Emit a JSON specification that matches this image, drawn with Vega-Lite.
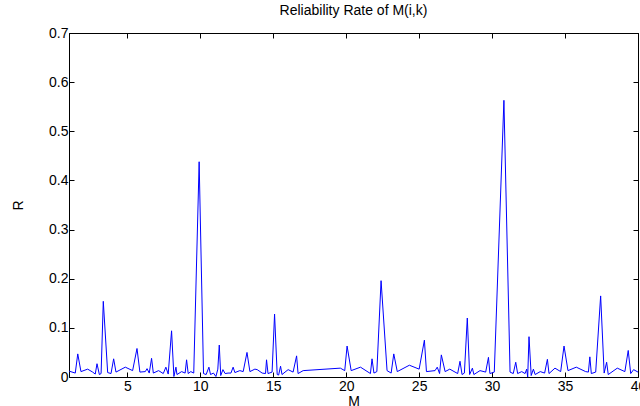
{
  "$schema": "https://vega.github.io/schema/vega-lite/v6.json",
  "width": 569,
  "height": 344,
  "autosize": {"type": "none"},
  "padding": {"left": 69, "top": 33, "right": 2, "bottom": 29},
  "background": "white",
  "title": {"text": "Reliability Rate of M(i,k)", "fontSize": 14, "fontWeight": "normal", "font": "Liberation Sans", "color": "black", "offset": 8},
  "config": {
    "view": {"stroke": "black", "strokeWidth": 1},
    "axis": {"grid": false, "domainColor": "black", "tickColor": "black", "tickSize": -5, "labelFont": "Liberation Sans", "labelFontSize": 14, "labelColor": "black", "titleFont": "Liberation Sans", "titleFontSize": 14, "titleFontWeight": "normal", "titleColor": "black"}
  },
  "data": {"values": [
    {"M": 1.0, "R": 0.012}, {"M": 1.43, "R": 0.008}, {"M": 1.6, "R": 0.047}, {"M": 1.82, "R": 0.011},
    {"M": 2.28, "R": 0.016}, {"M": 2.62, "R": 0.01}, {"M": 2.8, "R": 0.006}, {"M": 2.92, "R": 0.027},
    {"M": 3.08, "R": 0.005}, {"M": 3.2, "R": 0.007}, {"M": 3.35, "R": 0.154}, {"M": 3.65, "R": 0.009},
    {"M": 3.88, "R": 0.007}, {"M": 4.06, "R": 0.037}, {"M": 4.22, "R": 0.01}, {"M": 4.86, "R": 0.02},
    {"M": 5.36, "R": 0.013}, {"M": 5.66, "R": 0.058}, {"M": 5.86, "R": 0.01}, {"M": 6.23, "R": 0.011},
    {"M": 6.35, "R": 0.017}, {"M": 6.5, "R": 0.008}, {"M": 6.66, "R": 0.038}, {"M": 6.78, "R": 0.008},
    {"M": 7.14, "R": 0.013}, {"M": 7.46, "R": 0.007}, {"M": 7.64, "R": 0.02}, {"M": 7.8, "R": 0.006},
    {"M": 8.03, "R": 0.094}, {"M": 8.19, "R": 0.001}, {"M": 8.33, "R": 0.02}, {"M": 8.4, "R": 0.005},
    {"M": 8.72, "R": 0.011}, {"M": 8.96, "R": 0.008}, {"M": 9.06, "R": 0.035}, {"M": 9.17, "R": 0.007},
    {"M": 9.35, "R": 0.011}, {"M": 9.55, "R": 0.008}, {"M": 9.92, "R": 0.438}, {"M": 10.22, "R": 0.007},
    {"M": 10.4, "R": 0.005}, {"M": 10.59, "R": 0.02}, {"M": 10.7, "R": 0.005}, {"M": 10.9, "R": 0.008},
    {"M": 11.07, "R": 0.001}, {"M": 11.2, "R": 0.016}, {"M": 11.3, "R": 0.065}, {"M": 11.4, "R": 0.003},
    {"M": 11.55, "R": 0.015}, {"M": 11.7, "R": 0.007}, {"M": 11.9, "R": 0.008}, {"M": 12.1, "R": 0.008},
    {"M": 12.25, "R": 0.02}, {"M": 12.37, "R": 0.009}, {"M": 12.71, "R": 0.013}, {"M": 12.94, "R": 0.011},
    {"M": 13.2, "R": 0.05}, {"M": 13.4, "R": 0.011}, {"M": 13.74, "R": 0.016}, {"M": 13.9, "R": 0.015},
    {"M": 14.24, "R": 0.008}, {"M": 14.47, "R": 0.007}, {"M": 14.54, "R": 0.035}, {"M": 14.64, "R": 0.007},
    {"M": 14.92, "R": 0.01}, {"M": 15.09, "R": 0.128}, {"M": 15.27, "R": 0.005}, {"M": 15.37, "R": 0.004},
    {"M": 15.5, "R": 0.022}, {"M": 15.6, "R": 0.005}, {"M": 16.02, "R": 0.015}, {"M": 16.36, "R": 0.01},
    {"M": 16.6, "R": 0.043}, {"M": 16.7, "R": 0.007}, {"M": 17.05, "R": 0.013}, {"M": 19.6, "R": 0.018},
    {"M": 19.9, "R": 0.013}, {"M": 20.06, "R": 0.063}, {"M": 20.34, "R": 0.013}, {"M": 20.98, "R": 0.02},
    {"M": 21.66, "R": 0.007}, {"M": 21.77, "R": 0.037}, {"M": 21.9, "R": 0.008}, {"M": 22.1, "R": 0.011},
    {"M": 22.39, "R": 0.196}, {"M": 22.8, "R": 0.013}, {"M": 23.08, "R": 0.008}, {"M": 23.26, "R": 0.047},
    {"M": 23.5, "R": 0.011}, {"M": 24.33, "R": 0.024}, {"M": 25.0, "R": 0.016}, {"M": 25.36, "R": 0.075},
    {"M": 25.5, "R": 0.011}, {"M": 26.09, "R": 0.013}, {"M": 26.24, "R": 0.02}, {"M": 26.4, "R": 0.007},
    {"M": 26.52, "R": 0.045}, {"M": 26.78, "R": 0.011}, {"M": 27.1, "R": 0.016}, {"M": 27.64, "R": 0.007},
    {"M": 27.8, "R": 0.032}, {"M": 27.94, "R": 0.005}, {"M": 28.1, "R": 0.008}, {"M": 28.3, "R": 0.12},
    {"M": 28.46, "R": 0.005}, {"M": 28.65, "R": 0.018}, {"M": 28.75, "R": 0.005}, {"M": 29.17, "R": 0.013},
    {"M": 29.56, "R": 0.01}, {"M": 29.75, "R": 0.04}, {"M": 29.85, "R": 0.007}, {"M": 30.15, "R": 0.01},
    {"M": 30.81, "R": 0.563}, {"M": 31.23, "R": 0.01}, {"M": 31.45, "R": 0.007}, {"M": 31.62, "R": 0.03},
    {"M": 31.75, "R": 0.007}, {"M": 32.03, "R": 0.011}, {"M": 32.26, "R": 0.007}, {"M": 32.37, "R": 0.016},
    {"M": 32.44, "R": 0.0}, {"M": 32.53, "R": 0.082}, {"M": 32.68, "R": 0.003}, {"M": 32.83, "R": 0.016},
    {"M": 32.95, "R": 0.005}, {"M": 33.3, "R": 0.011}, {"M": 33.6, "R": 0.008}, {"M": 33.79, "R": 0.036},
    {"M": 33.9, "R": 0.007}, {"M": 34.31, "R": 0.018}, {"M": 34.7, "R": 0.011}, {"M": 34.93, "R": 0.063},
    {"M": 35.2, "R": 0.013}, {"M": 35.77, "R": 0.02}, {"M": 36.41, "R": 0.011}, {"M": 36.6, "R": 0.01},
    {"M": 36.7, "R": 0.041}, {"M": 36.8, "R": 0.007}, {"M": 37.1, "R": 0.01}, {"M": 37.44, "R": 0.165},
    {"M": 37.68, "R": 0.008}, {"M": 37.85, "R": 0.03}, {"M": 37.96, "R": 0.005}, {"M": 38.58, "R": 0.018},
    {"M": 39.1, "R": 0.011}, {"M": 39.33, "R": 0.054}, {"M": 39.5, "R": 0.007}, {"M": 39.7, "R": 0.015},
    {"M": 40.0, "R": 0.01}
  ]},
  "layer": [
    {
      "mark": {"type": "line", "color": "#0000ff", "strokeWidth": 1, "clip": true},
      "encoding": {
        "x": {"field": "M", "type": "quantitative", "scale": {"domain": [1, 40], "nice": false, "zero": false},
              "axis": {"orient": "bottom", "values": [5, 10, 15, 20, 25, 30, 35, 40], "title": "M", "titlePadding": 1, "labelPadding": 7, "labelFlush": false}},
        "y": {"field": "R", "type": "quantitative", "scale": {"domain": [0, 0.7], "nice": false},
              "axis": {"orient": "left", "values": [0, 0.1, 0.2, 0.3, 0.4, 0.5, 0.6, 0.7], "format": "~g", "title": "R", "titlePadding": 23, "labelPadding": 6, "labelFlush": false}}
      }
    },
    {
      "mark": {"type": "line", "opacity": 0},
      "encoding": {
        "x": {"field": "M", "type": "quantitative", "scale": {"domain": [1, 40], "nice": false, "zero": false},
              "axis": {"orient": "top", "values": [5, 10, 15, 20, 25, 30, 35, 40], "labels": false, "title": null}},
        "y": {"field": "R", "type": "quantitative", "scale": {"domain": [0, 0.7], "nice": false},
              "axis": {"orient": "right", "values": [0, 0.1, 0.2, 0.3, 0.4, 0.5, 0.6, 0.7], "labels": false, "title": null}}
      }
    }
  ],
  "resolve": {"axis": {"x": "independent", "y": "independent"}}
}
